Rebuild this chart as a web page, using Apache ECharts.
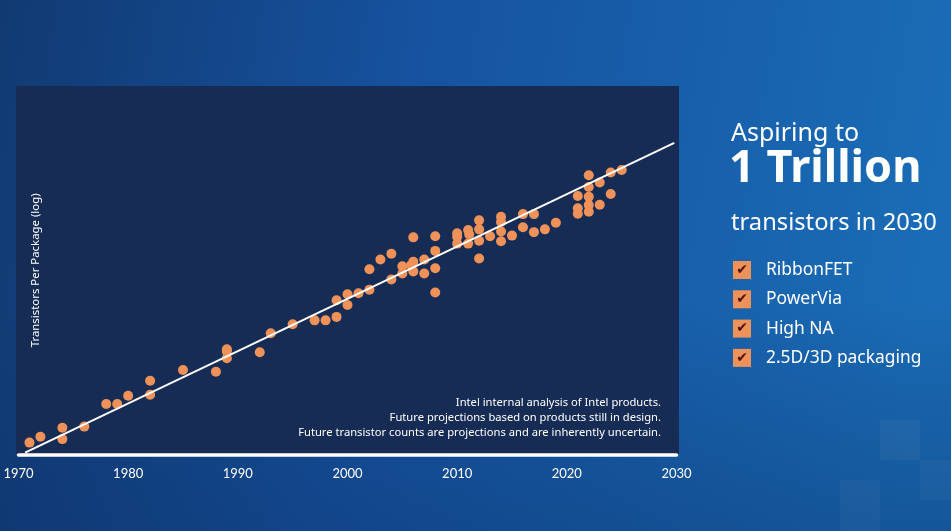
<!DOCTYPE html>
<html>
<head>
<meta charset="utf-8">
<script src="https://cdn.jsdelivr.net/npm/echarts@6/dist/echarts.min.js"></script>
<style>html,body{margin:0;padding:0;background:#123e7a;}#c{width:951px;height:531px;}</style>
</head>
<body>
<div id="c"></div>
<script>
// Year of each product (x) and log10 of transistors per package (y)
const years = [1971,1972,1974,1974,1976,1978,1979,1980,1982,1982,1985,1988,1989,1989,1989,1992,1993,1995,1997,1998,1999,1999,2000,2000,2001,2002,2002,2003,2004,2004,2005,2005,2006,2006,2005.8,2006,2007,2007,2008,2008,2008,2008,2010,2010,2010,2011,2011.1,2011,2012,2012,2012,2012,2013,2014,2014,2014,2014,2015,2016,2016,2017,2017,2018,2019,2021,2021,2021,2022,2022,2022,2022,2022,2023,2023,2024,2024,2025];
const logTransistors = [3.34,3.51,3.77,3.44,3.80,4.45,4.45,4.69,5.12,4.72,5.43,5.38,6.03,5.96,5.77,5.94,6.49,6.75,6.86,6.86,6.96,7.44,7.61,7.30,7.64,7.74,8.33,8.61,8.78,8.04,8.42,8.21,9.25,8.55,8.45,8.27,8.61,8.21,9.28,8.86,8.36,7.66,9.37,9.27,9.07,9.46,9.33,9.07,9.74,9.48,9.15,8.64,9.28,9.84,9.69,9.42,9.14,9.30,9.92,9.54,9.92,9.40,9.48,9.67,10.44,10.09,9.93,11.04,10.70,10.42,10.18,9.99,10.83,10.19,11.12,10.50,11.19];
// Trend line end points
const trendYears = [1970.6, 2029.8];
const trendLog = [3.05, 11.97];
// Axis ticks
const xTicks = [1970, 1980, 1990, 2000, 2010, 2020, 2030];
const yAxisTitle = 'Transistors Per Package (log)';
const notes = ['Intel internal analysis of Intel products.', 'Future projections based on products still in design.', 'Future transistor counts are projections and are inherently uncertain.'];
const headline = ['Aspiring to', '1 Trillion', 'transistors in 2030'];
const checklist = ['RibbonFET', 'PowerVia', 'High NA', '2.5D/3D packaging'];

const chart = echarts.init(document.getElementById('c'), null, {renderer: 'canvas'});
const ORANGE = '#EE9259';
const points = years.map((y, i) => [y, logTransistors[i]]);
const trend = trendYears.map((y, i) => [y, trendLog[i]]);

const graphics = [
  {type: 'rect', z: -20, shape: {x: 0, y: 0, width: 951, height: 531}, style: {fill: new echarts.graphic.LinearGradient(0, 0, 1, 0.3, [{offset: 0, color: '#113a72'}, {offset: 0.45, color: '#1653a0'}, {offset: 1, color: '#1a6cb6'}])}, silent: true},
  {type: 'rect', z: -19, shape: {x: 0, y: 300, width: 951, height: 231}, style: {fill: new echarts.graphic.LinearGradient(0, 0, 0, 1, [{offset: 0, color: 'rgba(10,40,90,0)'}, {offset: 1, color: 'rgba(10,45,100,0.35)'}])}, silent: true},
  {type: 'rect', z: -18, shape: {x: 880, y: 420, width: 40, height: 40}, style: {fill: 'rgba(255,255,255,0.04)'}, silent: true},
  {type: 'rect', z: -18, shape: {x: 920, y: 460, width: 31, height: 40}, style: {fill: 'rgba(255,255,255,0.03)'}, silent: true},
  {type: 'rect', z: -18, shape: {x: 840, y: 480, width: 40, height: 51}, style: {fill: 'rgba(255,255,255,0.03)'}, silent: true},
  {type: 'rect', z: -10, shape: {x: 16, y: 86, width: 663, height: 368}, style: {fill: '#172c55'}, silent: true}
];
notes.forEach((t, i) => graphics.push({type: 'text', z: 5, style: {text: t, x: 661, y: 403 + i * 15, fill: '#ffffff', font: '11.2px "Noto Sans"', textAlign: 'right', textVerticalAlign: 'middle'}}));
graphics.push({type: 'text', style: {text: headline[0], x: 731, y: 134, fill: '#ffffff', font: '25px "Noto Sans"', textVerticalAlign: 'middle'}});
graphics.push({type: 'text', style: {text: headline[1], x: 729, y: 169, fill: '#ffffff', font: 'bold 45px "Noto Sans"', textVerticalAlign: 'middle'}});
graphics.push({type: 'text', style: {text: headline[2], x: 731, y: 223, fill: '#ffffff', font: '23.7px "Noto Sans"', textVerticalAlign: 'middle'}});
checklist.forEach((t, i) => {
  const cy = 270 + i * 29.3;
  graphics.push({type: 'rect', shape: {x: 733, y: cy - 9, width: 18, height: 18}, style: {fill: ORANGE}});
  graphics.push({type: 'text', style: {text: '\u2714', x: 742, y: cy, fill: '#4a1212', font: 'bold 14px "DejaVu Sans"', textAlign: 'center', textVerticalAlign: 'middle'}});
  graphics.push({type: 'text', style: {text: t, x: 766, y: cy, fill: '#ffffff', font: '17.4px "Noto Sans"', textVerticalAlign: 'middle'}});
});

chart.setOption({
  animation: false,
  grid: {left: 18.5, right: 274.5, top: 86.3, bottom: 76.6, containLabel: false},
  xAxis: {
    type: 'value', min: xTicks[0], max: xTicks[xTicks.length - 1], interval: 10,
    axisLine: {show: true, lineStyle: {color: '#ffffff', width: 3.5}},
    axisTick: {show: false}, splitLine: {show: false},
    axisLabel: {color: '#ffffff', fontSize: 13, fontFamily: 'Lato', margin: 13, formatter: v => String(v)}
  },
  yAxis: {
    type: 'value', min: 3, max: 13.6,
    name: yAxisTitle, nameLocation: 'middle', nameRotate: 90, nameGap: -23,
    nameTextStyle: {color: '#ffffff', fontSize: 11.4, fontFamily: 'Noto Sans'},
    axisLine: {show: false}, axisTick: {show: false}, axisLabel: {show: false}, splitLine: {show: false}
  },
  graphic: graphics,
  series: [
    {type: 'scatter', data: points, symbol: 'circle', symbolSize: 10, itemStyle: {color: ORANGE, opacity: 1}, z: 3},
    {type: 'line', data: trend, symbol: 'none', lineStyle: {color: '#ffffff', width: 2}, z: 4}
  ]
});
</script>
</body>
</html>
